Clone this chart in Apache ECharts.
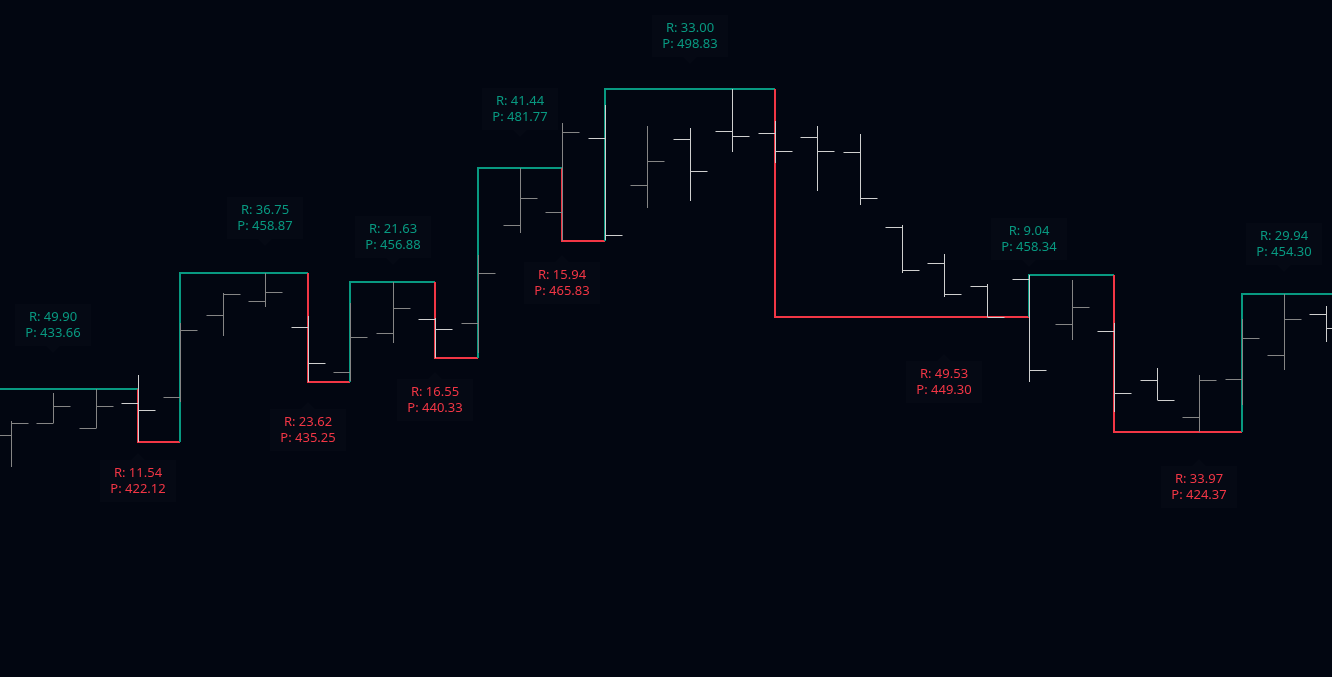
<!DOCTYPE html>
<html>
<head>
<meta charset="utf-8">
<script src="https://cdn.jsdelivr.net/npm/echarts@6/dist/echarts.min.js"></script>
<style>
html,body{margin:0;padding:0;background:#020611;}
#chart{width:1332px;height:677px;}
</style>
</head>
<body>
<div id="chart"></div>
<script>
// Bar index (0..31) and OHLC values
const barIndex = [0,1,2,3,4,5,6,7,8,9,10,11,12,13,14,15,16,17,18,19,20,21,22,23,24,25,26,27,28,29,30,31];
const opens  = [423.64,426.18,425.10,430.53,431.83,449.65,452.70,447.18,437.27,445.74,448.78,447.91,469.21,472.04,488.12,477.90,487.90,489.64,489.20,488.33,485.07,468.78,460.95,455.95,457.48,447.70,446.18,435.53,427.49,435.74,440.96,449.87];
const highs  = [426.68,432.70,433.66,436.68,447.98,454.43,458.87,449.50,452.33,456.88,449.00,462.76,481.77,491.38,495.35,490.79,490.29,498.83,491.88,490.79,489.05,469.28,462.97,456.46,458.34,457.32,447.91,438.14,436.68,448.85,454.30,451.61];
const lows   = [416.75,426.18,425.10,422.12,430.81,445.22,451.52,435.25,435.40,443.57,440.33,441.40,467.60,465.83,466.00,473.04,474.56,485.20,482.81,476.73,473.69,458.91,453.69,449.30,435.22,444.29,428.70,431.18,424.37,430.16,437.83,443.92];
const closes = [426.18,429.94,429.94,429.01,446.39,454.28,454.65,439.22,444.87,451.17,446.61,458.78,475.08,489.55,467.04,483.12,480.95,488.55,485.29,485.29,475.08,459.43,454.22,449.35,437.70,451.39,432.70,431.18,435.53,444.65,448.78,446.96];

// Swing pivot step line (bar index where level starts, level)
const pivotIdx   = [-1, 3, 4, 7, 8, 10, 11, 13, 14, 18, 24, 26, 29];
const pivotPrice = [433.66, 422.12, 458.87, 435.25, 456.88, 440.33, 481.77, 465.83, 498.83, 449.30, 458.34, 424.37, 454.30];

// Pivot labels
const labelIdx   = [1, 3, 6, 7, 9, 10, 12, 13, 16, 22, 24, 28, 30];
const labelR     = [49.90, 11.54, 36.75, 23.62, 21.63, 16.55, 41.44, 15.94, 33.00, 49.53, 9.04, 33.97, 29.94];
const labelP     = [433.66, 422.12, 458.87, 435.25, 456.88, 440.33, 481.77, 465.83, 498.83, 449.30, 458.34, 424.37, 454.30];
const labelLevel = [447.50, 413.58, 470.69, 424.66, 466.62, 431.25, 494.38, 456.72, 510.30, 435.11, 466.28, 412.34, 465.15];

const GREEN = '#089981', RED = '#f23645';
const UP_COL = '#858585', DOWN_COL = '#cfcfcf';

const barData = barIndex.map((i, k) => [i, opens[k], highs[k], lows[k], closes[k]]);

const stepData = pivotIdx.map((idx, k) => {
  const p = pivotPrice[k];
  const prev = k > 0 ? pivotPrice[k - 1] : p;
  const next = k < pivotIdx.length - 1 ? pivotIdx[k + 1] : 34;
  const ref = k < pivotPrice.length - 1 ? pivotPrice[k + 1] : pivotPrice[k - 1];
  return [idx, p, prev, next, p > ref ? 1 : 0];
});

const labelData = labelIdx.map((idx, k) => [idx, labelLevel[k], labelR[k], labelP[k], labelLevel[k] > labelP[k] ? 1 : 0]);

const chart = echarts.init(document.getElementById('chart'));
chart.setOption({
  backgroundColor: '#020611',
  animation: false,
  grid: { left: 0, right: 0, top: 0, bottom: 0 },
  xAxis: { type: 'value', min: -0.252, max: 31.13, show: false, splitLine: { show: false } },
  yAxis: { type: 'value', min: 371.05, max: 518.17, show: false, scale: true, splitLine: { show: false } },
  series: [
    {
      type: 'custom',
      name: 'pivots',
      clip: true,
      z: 1,
      data: stepData,
      encode: { x: [0, 3], y: [1, 2] },
      renderItem: function (params, api) {
        const x0 = api.value(0), p = api.value(1), pp = api.value(2), x1 = api.value(3), hi = api.value(4);
        const a = api.coord([x0, pp]), b = api.coord([x0, p]), c = api.coord([x1, p]);
        const r = v => Math.round(v);
        return {
          type: 'polyline',
          shape: { points: [[r(a[0]), r(a[1])], [r(b[0]), r(b[1])], [r(c[0]), r(b[1])]] },
          style: { stroke: hi ? GREEN : RED, lineWidth: 2, fill: null }
        };
      }
    },
    {
      type: 'custom',
      name: 'bars',
      clip: true,
      z: 2,
      data: barData,
      encode: { x: 0, y: [1, 2, 3, 4] },
      renderItem: function (params, api) {
        const i = api.value(0), o = api.value(1), h = api.value(2), l = api.value(3), c = api.value(4);
        const x = Math.round(api.coord([i, o])[0]) + 0.5;
        const yo = Math.round(api.coord([i, o])[1]) + 0.5;
        const yh = Math.round(api.coord([i, h])[1]);
        const yl = Math.round(api.coord([i, l])[1]);
        const yc = Math.round(api.coord([i, c])[1]) + 0.5;
        const col = c >= o ? UP_COL : DOWN_COL;
        const st = { stroke: col, lineWidth: 1 };
        const t = 17;
        return {
          type: 'group',
          children: [
            { type: 'line', shape: { x1: x, y1: yh, x2: x, y2: yl }, style: st },
            { type: 'line', shape: { x1: x - t, y1: yo, x2: x, y2: yo }, style: st },
            { type: 'line', shape: { x1: x, y1: yc, x2: x + t, y2: yc }, style: st }
          ]
        };
      }
    },
    {
      type: 'custom',
      name: 'labels',
      clip: false,
      z: 3,
      data: labelData,
      encode: { x: 0, y: 1 },
      renderItem: function (params, api) {
        const idx = api.value(0), lv = api.value(1), rv = api.value(2), pv = api.value(3), hi = api.value(4);
        const pt = api.coord([idx, lv]);
        const cx = Math.round(pt[0]), cy = Math.round(pt[1]);
        const w = 38, h = 21, pw = 7, ph = 7;
        let pts;
        if (hi) {
          pts = [[cx - w, cy - h], [cx + w, cy - h], [cx + w, cy + h], [cx + pw, cy + h], [cx, cy + h + ph], [cx - pw, cy + h], [cx - w, cy + h]];
        } else {
          pts = [[cx - w, cy - h], [cx - pw, cy - h], [cx, cy - h - ph], [cx + pw, cy - h], [cx + w, cy - h], [cx + w, cy + h], [cx - w, cy + h]];
        }
        const col = hi ? GREEN : RED;
        return {
          type: 'group',
          children: [
            { type: 'polygon', shape: { points: pts }, style: { fill: '#050914', stroke: null } },
            {
              type: 'text',
              style: {
                text: 'R: ' + rv.toFixed(2) + '\nP: ' + pv.toFixed(2),
                x: cx, y: cy,
                fill: col,
                font: '13px "Noto Sans", sans-serif',
                align: 'center',
                verticalAlign: 'middle',
                lineHeight: 16
              }
            }
          ]
        };
      }
    }
  ]
});
</script>
</body>
</html>
